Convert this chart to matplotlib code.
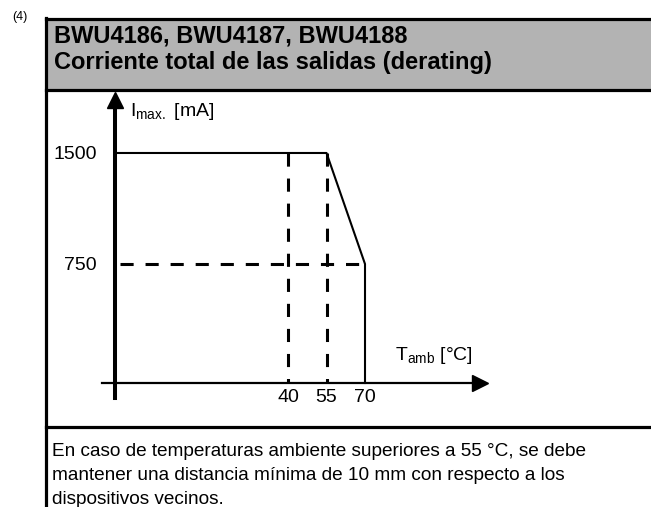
import matplotlib.pyplot as plt

plt.rcParams['font.family'] = ['Liberation Sans', 'DejaVu Sans']

# data (schematic derating curve)
temps = [40, 55, 70]            # °C tick positions
currents = [1500, 750]          # mA tick positions
x_axis = -27.4                  # where the y-axis stands (schematic origin)
y_axis = -54                    # where the x-axis stands
x_end = 114.8
y_end = 1858

W, H = 651, 507
fig = plt.figure(figsize=(W / 100, H / 100), dpi=100)

# frame / table in pixel coordinates
bg = fig.add_axes([0, 0, 1, 1])
bg.set_xlim(0, W)
bg.set_ylim(H, 0)
bg.axis('off')
bg.add_patch(plt.Rectangle((46, 19), W - 46, 71, facecolor='#b3b3b3', edgecolor='none'))
bg.plot([46, W], [19, 19], color='black', lw=2.3)
bg.plot([46, W], [90, 90], color='black', lw=2.3)
bg.plot([46, W], [427, 427], color='black', lw=2.3)
bg.plot([46, 46], [18, H], color='black', lw=2.3)
bg.text(12, 17, '(4)', fontsize=9, va='center', ha='left')
bg.text(54, 43, 'BWU4186, BWU4187, BWU4188', fontsize=17, fontweight='bold', va='baseline')
bg.text(54, 69, 'Corriente total de las salidas (derating)', fontsize=17, fontweight='bold', va='baseline')
note = ['En caso de temperaturas ambiente superiores a 55 °C, se debe',
        'mantener una distancia mínima de 10 mm con respecto a los',
        'dispositivos vecinos.']
for i, line in enumerate(note):
    bg.text(52, 456 + i * 24, line, fontsize=13.7, va='baseline')

# chart axes
left, right, top, bottom = 115, 480, 100, 383
ax = fig.add_axes([left / W, (H - bottom) / H, (right - left) / W, (bottom - top) / H])
ax.set_xlim(x_axis, x_end)
ax.set_ylim(y_axis, y_end)
ax.patch.set_alpha(0)
for s in ['top', 'right']:
    ax.spines[s].set_visible(False)
ax.spines['left'].set_linewidth(2.9)
ax.spines['bottom'].set_linewidth(1.6)
ax.spines['bottom'].set_bounds(x_axis - 5, x_end)
ax.spines['left'].set_bounds(y_axis - 100, y_end)

ax.plot(1, y_axis, '>k', transform=ax.get_yaxis_transform(), clip_on=False, markersize=11)
ax.plot(x_axis, 1, '^k', transform=ax.get_xaxis_transform(), clip_on=False, markersize=11)

# derating curve
ax.plot([x_axis, temps[1], temps[2], temps[2]],
        [currents[0], currents[0], currents[1], y_axis],
        color='black', lw=1.5, clip_on=False)

dash = dict(color='black', lw=2.2, linestyle=(0, (4.3, 3.9)), clip_on=False)
ax.plot([x_axis + 2, temps[2]], [currents[1], currents[1]], **dash)
ax.plot([temps[0], temps[0]], [currents[0], y_axis], **dash)
ax.plot([temps[1], temps[1]], [currents[0], y_axis], **dash)

ax.set_xticks(temps)
ax.set_xticklabels([str(t) for t in temps])
ax.set_yticks(currents)
ax.set_yticklabels([str(c) for c in currents])
ax.tick_params(axis='both', length=0, labelsize=14)
ax.tick_params(axis='x', pad=4)
ax.tick_params(axis='y', pad=13)

ax.text(x_axis + 6, y_end - 80, r'I$_{\mathregular{max.}}$ [mA]', fontsize=14, va='center', ha='left')
ax.text(81.7, 135, r'T$_{\mathregular{amb}}$ [°C]', fontsize=14, va='center', ha='left')

fig.savefig('out.png', dpi=100)
